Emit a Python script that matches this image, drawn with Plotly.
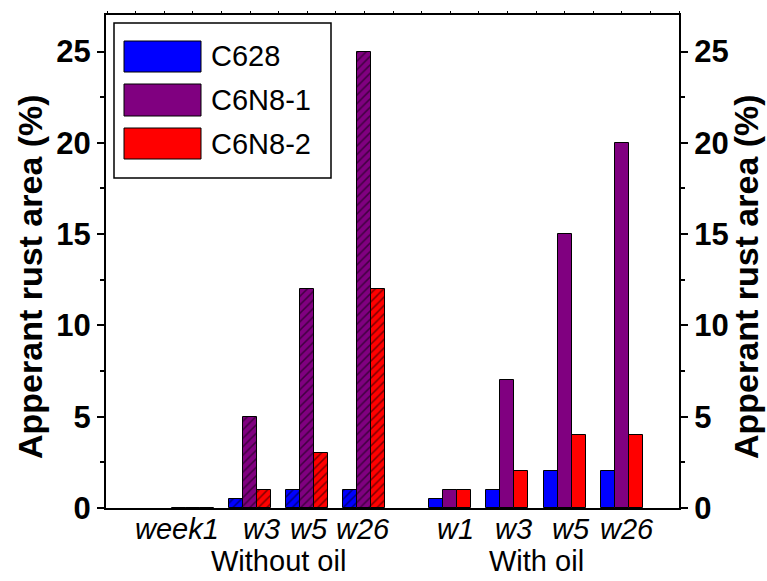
import plotly.graph_objects as go

# ---- data ----
week_labels = ["week1", "w3", "w5", "w26", "w1", "w3", "w5", "w26"]
groups = ["Without oil", "With oil"]
group_members = [[0, 1, 2, 3], [4, 5, 6, 7]]
positions = [0, 1, 2, 3, 4.5, 5.5, 6.5, 7.5]
series_names = ["C628", "C6N8-1", "C6N8-2"]
c628 = [0, 0.5, 1, 1, 0.5, 1, 2, 2]
c6n8_1 = [0, 5, 12, 25, 1, 7, 15, 20]
c6n8_2 = [0, 1, 3, 12, 1, 2, 4, 4]
series_values = [c628, c6n8_1, c6n8_2]
hatched = [True, True, True, True, False, False, False, False]
y_title = "Apperant rust area (%)"

# ---- styling ----
colors = ["#0000FF", "#800080", "#FF0000"]
FONT = "Arial, Liberation Sans, sans-serif"
label_xshift = [-16, 11, 2, -1, 5, 6, 6, 5]   # px nudges of the week labels

W, H = 767, 581
L, R, T, B = 106, 88, 15, 73
bw = 0.245

fig = go.Figure()
for i, (name, vals) in enumerate(zip(series_names, series_values)):
    fig.add_trace(go.Bar(
        x=positions, y=vals, name=name,
        width=bw, offset=-1.5 * bw + i * bw,
        marker=dict(
            color=colors[i],
            line=dict(color="black", width=1),
            pattern=dict(shape=["/" if h else "" for h in hatched],
                         fgcolor="black", size=6, solidity=0.25),
        ),
        showlegend=False,
    ))

# invisible traces to activate right / top axes
fig.add_trace(go.Scatter(x=[positions[0]], y=[0], yaxis="y2", mode="markers",
                         marker=dict(opacity=0), showlegend=False, hoverinfo="skip"))
fig.add_trace(go.Scatter(x=[positions[0]], y=[0], xaxis="x2", mode="markers",
                         marker=dict(opacity=0), showlegend=False, hoverinfo="skip"))

yr = [0, 27.0]
xr = [-1.52, 8.5]
tickfont = dict(size=31, family=FONT, color="black")

common_y = dict(
    range=yr, showgrid=False, zeroline=False, automargin=False,
    showline=True, linecolor="black", linewidth=2,
    tick0=0, dtick=5, ticks="outside", ticklen=7, tickwidth=2, tickcolor="black",
    minor=dict(dtick=2.5, ticks="outside", ticklen=4, tickwidth=1.5, tickcolor="black"),
    tickfont=tickfont, tickprefix="<b>", ticksuffix="</b>",
)

fig.update_layout(
    width=W, height=H,
    margin=dict(l=L, r=R, t=T, b=B),
    paper_bgcolor="white", plot_bgcolor="white",
    font=dict(family=FONT, color="black"),
    bargap=0,
    xaxis=dict(
        range=xr, showgrid=False, zeroline=False, automargin=False,
        showline=True, linecolor="black", linewidth=2,
        tickvals=positions, showticklabels=False, ticks="",
    ),
    xaxis2=dict(
        range=xr, overlaying="x", side="top", showgrid=False, zeroline=False,
        automargin=False, showline=True, linecolor="black", linewidth=2,
        tick0=0, dtick=0.5, ticks="outside", ticklen=2, tickcolor="black",
        showticklabels=False,
    ),
    yaxis=dict(common_y),
    yaxis2=dict(common_y, overlaying="y", side="right"),
)

pw, ph = W - L - R, H - T - B
def px2paper(x, y):
    return (x - L) / pw, 1 - (y - T) / ph

# axis titles (left and right)
for xc in (30, 746):
    ax, ay = px2paper(xc, 277)
    fig.add_annotation(x=ax, y=ay, xref="paper", yref="paper", text="<b>%s</b>" % y_title,
                       textangle=-90, showarrow=False, xanchor="center", yanchor="middle",
                       font=dict(size=34, family=FONT, color="black"))

# week tick labels
for p, lab, dx in zip(positions, week_labels, label_xshift):
    fig.add_annotation(x=p, y=px2paper(0, 529)[1], xref="x", yref="paper",
                       text="<i>%s</i>" % lab, xshift=dx, showarrow=False,
                       font=dict(size=29, family=FONT, color="black"),
                       xanchor="center", yanchor="middle")

# group labels
for g, members in zip(groups, group_members):
    cx = sum(positions[m] for m in members) / len(members)
    fig.add_annotation(x=cx, y=px2paper(0, 561)[1], xref="x", yref="paper", text=g,
                       showarrow=False, font=dict(size=29, family=FONT, color="black"),
                       xanchor="center", yanchor="middle")

# custom legend (Origin style)
x0, y0 = px2paper(114, 23)
x1, y1 = px2paper(331, 178)
fig.add_shape(type="rect", xref="paper", yref="paper", x0=x0, y0=y0, x1=x1, y1=y1,
              line=dict(color="black", width=1.5), fillcolor="white", layer="above")
rows = [(41, 72), (84, 116), (128, 159)]
for i, name in enumerate(series_names):
    ya, yb = rows[i]
    sx0, sy0 = px2paper(124, ya)
    sx1, sy1 = px2paper(201, yb)
    fig.add_shape(type="rect", xref="paper", yref="paper", x0=sx0, y0=sy0, x1=sx1, y1=sy1,
                  line=dict(color="black", width=1), fillcolor=colors[i], layer="above")
    tx, ty = px2paper(209, (ya + yb) / 2)
    fig.add_annotation(x=tx, y=ty, xref="paper", yref="paper", text=name, showarrow=False,
                       xanchor="left", yanchor="middle",
                       font=dict(size=29, family=FONT, color="black"))

fig.write_html("out.html", config={"displayModeBar": False},
               post_script="document.body.style.margin='0';document.body.style.overflow='hidden';")
